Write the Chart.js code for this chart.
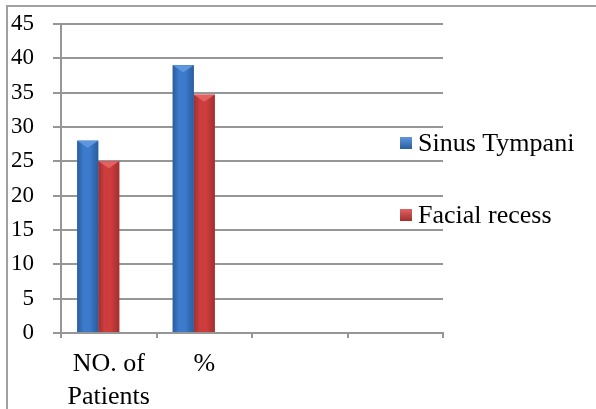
<!DOCTYPE html>
<html>
<head>
<meta charset="utf-8">
<script src="https://cdn.jsdelivr.net/npm/chart.js@4.4.1/dist/chart.umd.min.js"></script>
<style>
  html, body { margin: 0; padding: 0; background: #fff; }
  #wrap { width: 596px; height: 409px; position: relative; }
</style>
</head>
<body>
<div id="wrap"><canvas id="myBarChart" width="596" height="409"></canvas></div>
<script>
// chart data
const categories = [["NO. of", "Patients"], "%", "", ""];
const sinusTympani = [28, 39, null, null];
const facialRecess = [25, 34.7, null, null];
const blankSeries = [null, null, null, null]; // empty third series from the sheet, keeps the gap
const seriesNames = ["Sinus Tympani", "Facial recess", ""];
const yTicks = [0, 5, 10, 15, 20, 25, 30, 35, 40, 45];

const serif = "'Liberation Serif', 'Times New Roman', serif";

// colours for each series: [edge, main, light]
const palette = [
  ["#2a5d9c", "#3c7acb", "#5f97de"],
  ["#a22f2f", "#cd3d3d", "#e26262"],
  ["#80a040", "#9bbb59", "#b5d17a"]
];

// frame lines round the chart (top and left only, like the source)
const framePlugin = {
  id: 'frame',
  beforeDraw(chart) {
    const c = chart.ctx;
    c.save();
    c.fillStyle = '#fff';
    c.fillRect(0, 0, chart.width, chart.height);
    c.strokeStyle = '#a0a0a0';
    c.lineWidth = 2;
    c.beginPath();
    c.moveTo(7, chart.height);
    c.lineTo(7, 6);
    c.lineTo(chart.width, 6);
    c.stroke();
    c.restore();
  }
};

// shaded bars with a bevelled top
const bevelPlugin = {
  id: 'bevel',
  afterDatasetDraw(chart, args) {
    const meta = args.meta;
    const col = palette[args.index];
    const c = chart.ctx;
    c.save();
    meta.data.forEach((bar, i) => {
      if (meta._parsed[i].y == null) return;
      const w = bar.width;
      const left = bar.x - w / 2;
      const top = bar.y;
      const h = bar.base - bar.y;
      const g = c.createLinearGradient(left, 0, left + w, 0);
      g.addColorStop(0, col[0]);
      g.addColorStop(0.3, col[1]);
      g.addColorStop(0.6, col[1]);
      g.addColorStop(1, col[0]);
      c.fillStyle = g;
      c.fillRect(left, top, w, h);
      // bevel triangle
      c.fillStyle = col[2];
      c.beginPath();
      c.moveTo(left, top);
      c.lineTo(left + w, top);
      c.lineTo(bar.x, top + 7);
      c.closePath();
      c.fill();
    });
    c.restore();
  }
};

// legend drawn by hand at the right
const legendPlugin = {
  id: 'sideLegend',
  afterDraw(chart) {
    const c = chart.ctx;
    const x0 = chart.chartArea.right - 43;
    const ys = [143, 215];
    c.save();
    c.font = "26px " + serif;
    c.textBaseline = 'middle';
    chart.data.datasets.forEach((ds, i) => {
      if (!ds.label) return;
      const col = palette[i];
      const y = ys[i];
      const g = c.createLinearGradient(0, y - 6, 0, y + 6);
      g.addColorStop(0, col[2]);
      g.addColorStop(1, col[0]);
      c.fillStyle = g;
      c.fillRect(x0, y - 6, 12, 12);
      c.fillStyle = '#000';
      c.fillText(ds.label, x0 + 18, y + 1);
    });
    c.restore();
  }
};

const makeSet = (i, data) => ({
  label: seriesNames[i],
  backgroundColor: palette[i][1],
  data: data,
  barPercentage: 1,
  categoryPercentage: 0.66
});

const ctx = document.getElementById("myBarChart").getContext('2d');
const myBarChart = new Chart(ctx, {
  type: 'bar',
  data: {
    labels: categories,
    datasets: [
      makeSet(0, sinusTympani),
      makeSet(1, facialRecess),
      makeSet(2, blankSeries)
    ]
  },
  plugins: [framePlugin, bevelPlugin, legendPlugin],
  options: {
    responsive: false,
    animation: false,
    layout: { padding: { top: 24, right: 153, bottom: 0, left: 0 } },
    plugins: {
      legend: { display: false },
      tooltip: { enabled: false }
    },
    scales: {
      x: {
        grid: {
          offset: true,
          drawOnChartArea: false,
          drawTicks: true,
          tickLength: 5,
          color: '#969696',
          lineWidth: 2
        },
        border: { color: '#969696', width: 2 },
        ticks: {
          color: '#000',
          font: { family: serif, size: 26, lineHeight: 1.25 },
          maxRotation: 0,
          autoSkip: false,
          padding: 10
        },
        afterFit(scale) { scale.height = 76; }
      },
      y: {
        min: 0,
        max: 45,
        afterBuildTicks(scale) {
          scale.ticks = yTicks.map(v => ({ value: v }));
        },
        grid: {
          color: '#969696',
          lineWidth: 2,
          tickLength: 8
        },
        border: { color: '#969696', width: 2 },
        ticks: {
          color: '#000',
          font: { family: serif, size: 23, lineHeight: 0.4 },
          padding: 19
        },
        afterFit(scale) { scale.width = 61; }
      }
    }
  }
});
</script>
</body>
</html>
